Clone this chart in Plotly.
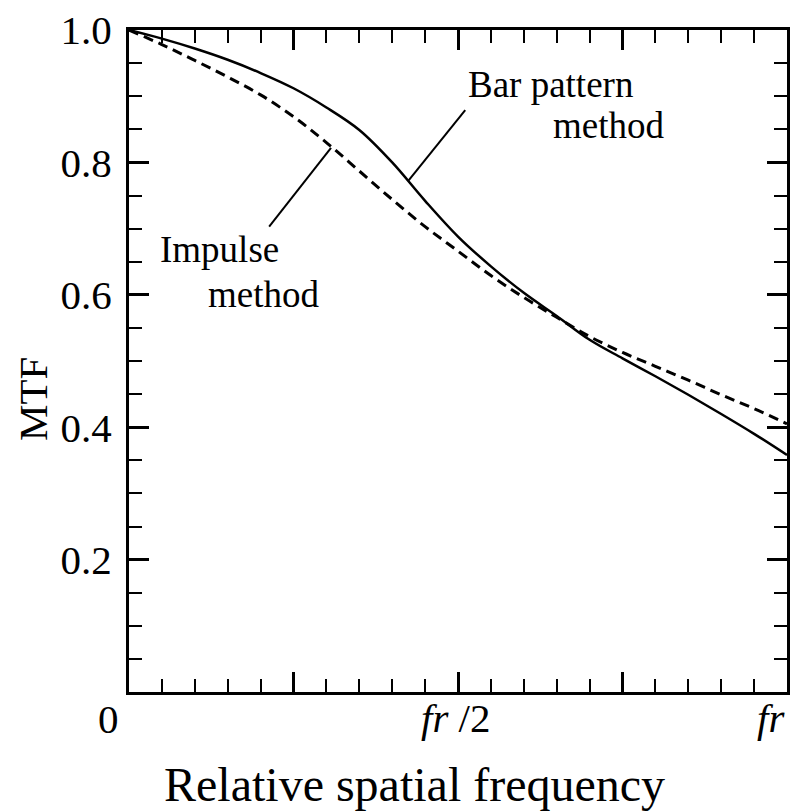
import plotly.graph_objects as go

# Relative spatial frequency (fraction of fr)
freq = [0.0, 0.05, 0.10, 0.15, 0.20, 0.25, 0.30, 0.35, 0.40, 0.45, 0.50,
        0.55, 0.60, 0.65, 0.70, 0.75, 0.80, 0.85, 0.90, 0.95, 1.00]

# Bar pattern method (solid)
mtf_bar = [1.000, 0.987, 0.972, 0.955, 0.935, 0.912, 0.883, 0.849, 0.800, 0.742, 0.688,
           0.643, 0.603, 0.568, 0.532, 0.504, 0.477, 0.449, 0.420, 0.390, 0.358]

# Impulse method (dashed)
mtf_impulse = [1.000, 0.978, 0.954, 0.929, 0.902, 0.869, 0.830, 0.787, 0.744, 0.703, 0.666,
               0.629, 0.596, 0.566, 0.537, 0.513, 0.492, 0.471, 0.449, 0.428, 0.405]

y_ticks = [0.2, 0.4, 0.6, 0.8, 1.0]
y_ticklabels = ["0.2", "0.4", "0.6", "0.8", "1.0"]
x_ticks = [0.0, 0.25, 0.5, 0.75, 1.0]
x_labels = [(0.0, "0"), (0.5, "<i>fr</i> /2"), (1.0, "<i>fr</i>")]

FONT = "Liberation Serif, Times New Roman, serif"

fig = go.Figure()
fig.add_trace(go.Scatter(x=freq, y=mtf_impulse, mode="lines",
                         line=dict(color="black", width=3, dash="10px,6px", shape="spline"),
                         name="Impulse method", showlegend=False))
fig.add_trace(go.Scatter(x=freq, y=mtf_bar, mode="lines",
                         line=dict(color="black", width=2.5, shape="spline"),
                         name="Bar pattern method", showlegend=False))

axis_common = dict(
    showgrid=False, zeroline=False, showline=True, linecolor="black", linewidth=3,
    mirror="ticks", ticks="inside", tickcolor="black", tickwidth=2.5, ticklen=20,
    tickfont=dict(family=FONT, size=41, color="black"),
)
minor = dict(dtick=0.05, tick0=0, ticks="inside", ticklen=13, tickwidth=2,
             tickcolor="black", showgrid=False)

fig.update_xaxes(range=[0, 1], tickmode="array", tickvals=x_ticks, showticklabels=False,
                 minor=minor, **axis_common)
fig.update_yaxes(range=[0, 1], tickmode="array", tickvals=y_ticks, ticktext=y_ticklabels,
                 minor=minor, ticklabelstandoff=6, **axis_common)

txt = dict(family=FONT, size=37, color="black")
annotations = [
    dict(text="Bar pattern", x=0.641, y=0.918),
    dict(text="method", x=0.729, y=0.855),
    dict(text="Impulse", x=0.138, y=0.668),
    dict(text="method", x=0.204, y=0.601),
]
for a in annotations:
    fig.add_annotation(xref="paper", yref="paper", showarrow=False, font=txt,
                       xanchor="center", yanchor="middle", **a)

tick_font = dict(family=FONT, size=41, color="black")
for xv, lab in x_labels:
    if xv == 0.0:
        fig.add_annotation(xref="paper", yref="paper", x=xv, y=0, text=lab, showarrow=False,
                           font=tick_font, xanchor="center", yanchor="middle",
                           xshift=-21, yshift=-27)
    elif xv == 1.0:
        fig.add_annotation(xref="paper", yref="paper", x=xv, y=0, text=lab, showarrow=False,
                           font=tick_font, xanchor="right", yanchor="middle", yshift=-26)
    else:
        fig.add_annotation(xref="paper", yref="paper", x=xv, y=0, text=lab, showarrow=False,
                           font=tick_font, xanchor="center", yanchor="middle",
                           xshift=-2, yshift=-26)

fig.add_annotation(xref="paper", yref="paper", x=-0.147, y=0.443, text="MTF", textangle=-90,
                   showarrow=False, font=dict(family=FONT, size=41, color="black"),
                   xanchor="center", yanchor="middle")
fig.add_annotation(xref="paper", yref="paper", x=0.434, y=-0.139,
                   text="Relative spatial frequency", showarrow=False,
                   font=dict(family=FONT, size=48, color="black"),
                   xanchor="center", yanchor="middle")

# leader lines
leaders = [((0.511, 0.879), (0.425, 0.773)), ((0.307, 0.822), (0.213, 0.703))]
for (x0, y0), (x1, y1) in leaders:
    fig.add_shape(type="line", xref="x", yref="y", x0=x0, y0=y0, x1=x1, y1=y1,
                  line=dict(color="black", width=2))

fig.update_layout(width=797, height=812, margin=dict(l=129, r=7, t=23, b=120),
                  paper_bgcolor="white", plot_bgcolor="white", showlegend=False)

fig.write_html("out.html")
